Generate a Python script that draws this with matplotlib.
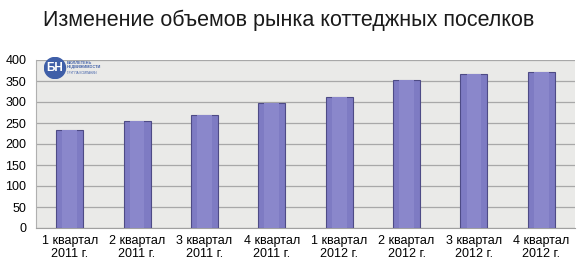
import matplotlib
matplotlib.use('Agg')
import matplotlib.pyplot as plt
from matplotlib.patches import Circle

plt.rcParams['font.family'] = ['Liberation Sans', 'DejaVu Sans']

# Data
quarters = ['1 квартал\n2011 г.', '2 квартал\n2011 г.', '3 квартал\n2011 г.', '4 квартал\n2011 г.',
            '1 квартал\n2012 г.', '2 квартал\n2012 г.', '3 квартал\n2012 г.', '4 квартал\n2012 г.']
volumes = [233, 255, 269, 297, 313, 352, 366, 371]
y_ticks = [0, 50, 100, 150, 200, 250, 300, 350, 400]

fig = plt.figure(figsize=(5.8, 2.68), dpi=100)
ax = fig.add_axes([36 / 580, 1 - 228 / 268, 539 / 580, 168 / 268])

ax.set_facecolor('#EAEAE8')
x = range(len(volumes))
ax.bar(x, volumes, width=0.4, color='#7E7BC3', edgecolor='#4E4B86', linewidth=0.8, zorder=3)
# soft highlight down the middle of each bar
ax.bar(x, volumes, width=0.22, color='#8A87CB', linewidth=0, zorder=3)

ax.set_xlim(-0.5, len(volumes) - 0.5)
ax.set_ylim(0, 400)
ax.set_yticks(y_ticks)
ax.yaxis.grid(True, color='#A8A8A8', linewidth=0.9, zorder=0)
ax.set_axisbelow(True)
ax.set_xticks(list(x))
ax.set_xticklabels(quarters, fontsize=9, linespacing=1.15)
ax.tick_params(axis='y', labelsize=9, length=0, pad=7)
ax.tick_params(axis='x', length=0, pad=5)

for side in ['top', 'right']:
    ax.spines[side].set_visible(False)
ax.spines['left'].set_color('#B0B0B0')
ax.spines['bottom'].set_color('#A0A0A0')

fig.text(0.497, 0.925, 'Изменение объемов рынка коттеджных поселков',
         ha='center', va='center', fontsize=15.5, color='#1A1A1A')

# logo approximation
logo = fig.add_axes([44 / 580, 1 - 79 / 268, 70 / 580, 22 / 268])
logo.set_xlim(0, 70)
logo.set_ylim(0, 22)
logo.axis('off')
logo.add_patch(Circle((11, 11), 10.5, color='#3F5FA8'))
logo.text(11, 11, 'БН', color='white', fontsize=8.5, fontweight='bold', ha='center', va='center')
logo.text(23, 14, 'БЮЛЛЕТЕНЬ\nНЕДВИЖИМОСТИ', color='#3F5FA8', fontsize=2.8, fontweight='bold',
          ha='left', va='center', linespacing=1.0)
logo.text(23, 6, 'ГРУППА КОМПАНИЙ', color='#3F5FA8', fontsize=2.2, ha='left', va='center')

fig.savefig('out.png', dpi=100)
